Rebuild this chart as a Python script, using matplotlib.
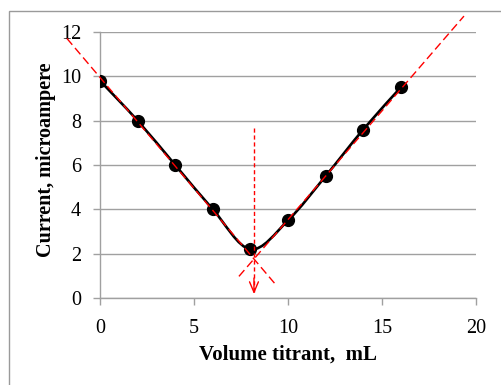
import matplotlib.pyplot as plt
import numpy as np
from matplotlib.path import Path
from matplotlib.patches import PathPatch, Rectangle

# titration data
volume = [0, 2, 4, 6, 8, 10, 12, 14, 16]
current = [9.8, 8.0, 6.0, 4.0, 2.2, 3.5, 5.5, 7.6, 9.5]

# extrapolated branches (slope, intercept, x range)
left_slope, left_icpt = -1.0, 9.95
left_range = [-1.76, 9.3]
right_slope, right_icpt = 0.981, -6.274
right_range = [7.39, 19.36]

x_ticks = [0, 5, 10, 15, 20]
y_ticks = [0, 2, 4, 6, 8, 10, 12]

plt.rcParams['font.family'] = ['Liberation Serif', 'DejaVu Serif']

fig = plt.figure(figsize=(5.02, 3.85), dpi=100)
ax = fig.add_axes([100 / 502, 1 - 298 / 385, 376 / 502, 266 / 385])

# chart area border (runs off the right and bottom edge)
fig.patches.append(Rectangle((9 / 502, -0.1), 1.2, 1 - 11.5 / 385 + 0.1,
                             transform=fig.transFigure, fill=False,
                             edgecolor='#9a9a9a', linewidth=1.0))


def smooth_path(xs, ys):
  """Bezier path through the points, like a spreadsheet smoothed line"""
  pts = np.column_stack([xs, ys]).astype(float)
  n = len(pts)
  verts = [pts[0]]
  codes = [Path.MOVETO]
  for i in range(n - 1):
    p0 = pts[max(i - 1, 0)]
    p1 = pts[i]
    p2 = pts[i + 1]
    p3 = pts[min(i + 2, n - 1)]
    verts += [p1 + (p2 - p0) / 6, p2 - (p3 - p1) / 6, p2]
    codes += [Path.CURVE4] * 3
  return Path(verts, codes)


ax.add_patch(PathPatch(smooth_path(volume, current), fill=False,
                       edgecolor='black', linewidth=1.9, zorder=3))
ax.plot(volume, current, 'o', color='black', markersize=8.5, zorder=3)

red_dash = (0, (6, 3))
lx = np.array(left_range)
rx = np.array(right_range)
ax.plot(lx, left_slope * lx + left_icpt, color='red', linewidth=1.0,
        linestyle=red_dash, clip_on=False, zorder=4)
ax.plot(rx, right_slope * rx + right_icpt, color='red', linewidth=1.0,
        linestyle=red_dash, clip_on=False, zorder=4)

# end point arrow: dashed shaft plus open head
x_end = (right_icpt - left_icpt) / (left_slope - right_slope)
ax.plot([x_end, x_end], [7.67, 0.25], color='red', linewidth=1.0,
        linestyle=(0, (3, 2)), zorder=4)
ax.annotate('', xy=(x_end, 0.18), xytext=(x_end, 0.9),
            arrowprops=dict(arrowstyle='->,head_length=0.75,head_width=0.32',
                            color='red', linewidth=1.0,
                            shrinkA=0, shrinkB=0), zorder=4)

ax.set_xlim(0, 20)
ax.set_ylim(0, 12)
ax.set_xticks(x_ticks)
ax.set_yticks(y_ticks)
ax.yaxis.grid(True, color='#a0a0a0', linewidth=1.0)
ax.set_axisbelow(True)
for side in ['top', 'right']:
  ax.spines[side].set_visible(False)
for side in ['left', 'bottom']:
  ax.spines[side].set_color('#a0a0a0')
  ax.spines[side].set_linewidth(1.0)
ax.tick_params(direction='out', length=5, width=1.0, color='#a0a0a0',
               labelsize=14.5)
ax.tick_params(axis='y', pad=8.5)
ax.tick_params(axis='x', pad=10)

ax.set_xlabel('Volume titrant,  mL', fontsize=15, fontweight='bold',
              labelpad=5)
ax.set_ylabel('Current, microampere', fontsize=14.5, fontweight='bold')
ax.yaxis.set_label_coords(-0.118, 0.519)

fig.savefig('out.png', dpi=100)
